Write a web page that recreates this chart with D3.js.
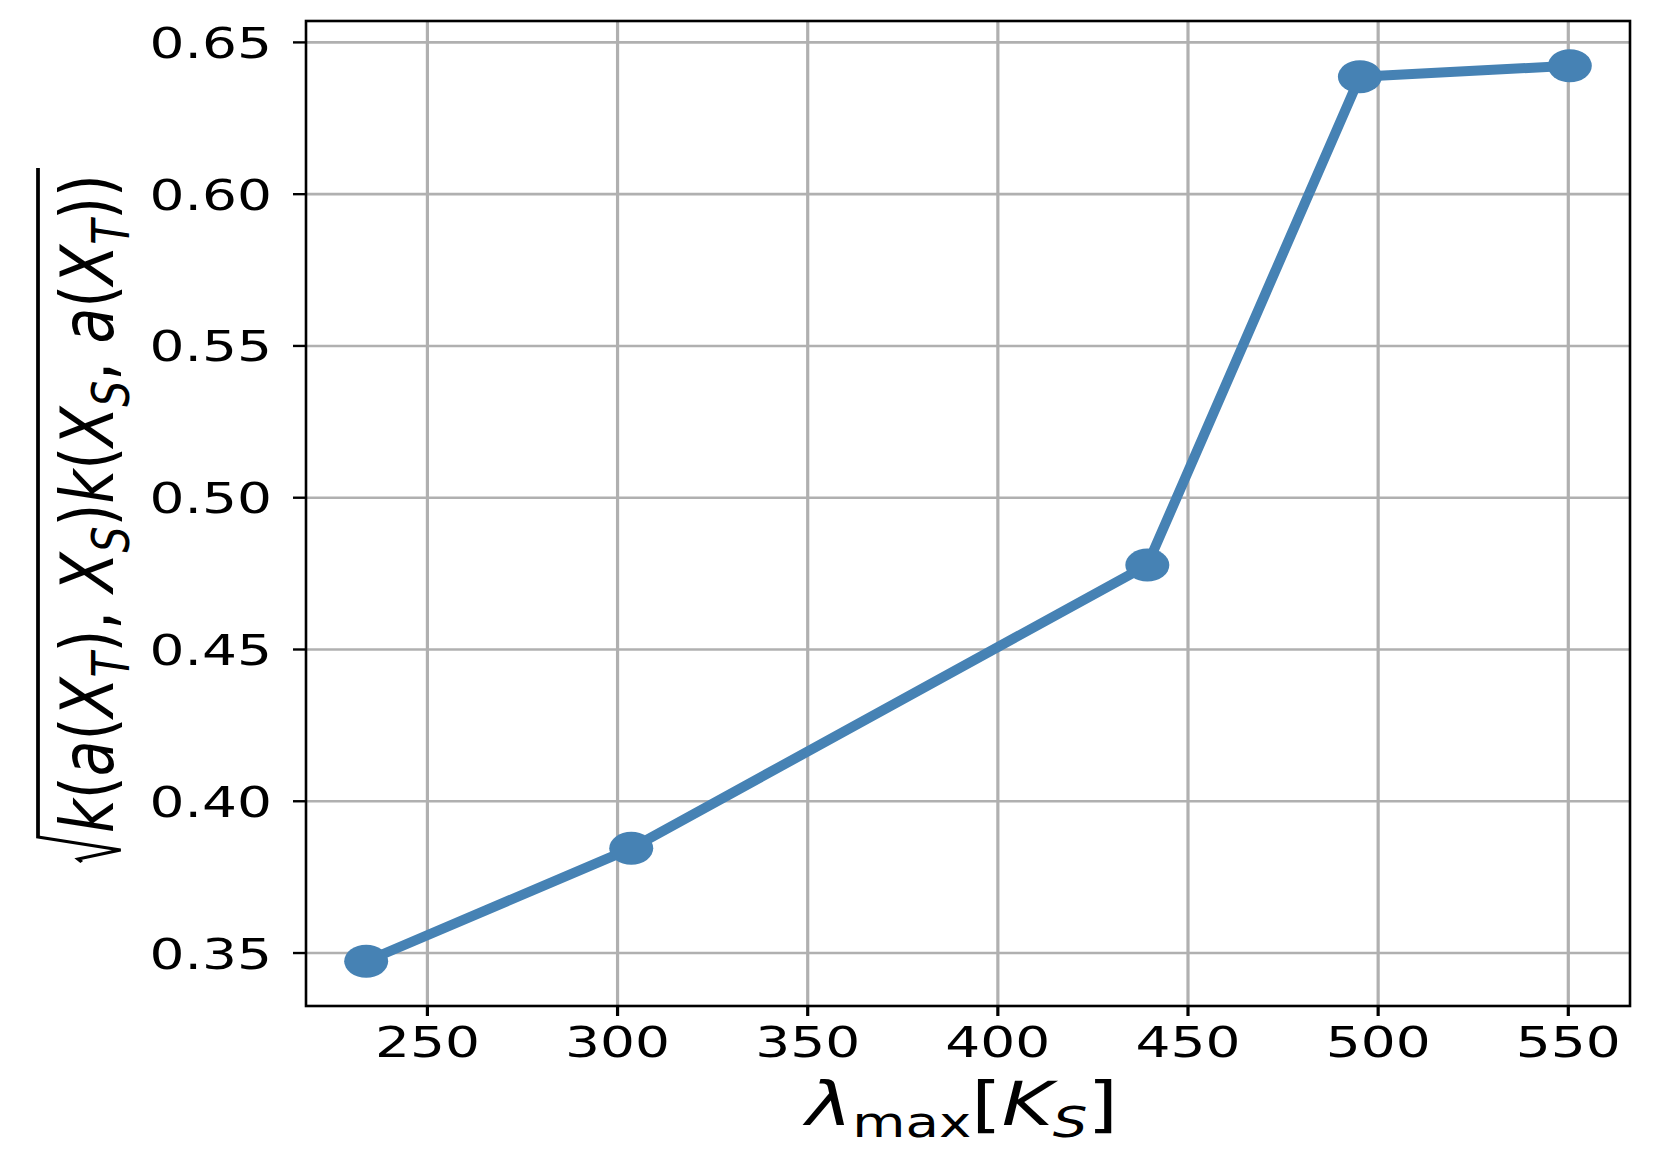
<!DOCTYPE html>
<html><head><meta charset="utf-8">
<script src="https://cdn.jsdelivr.net/npm/d3@7"></script>
<style>body{margin:0;background:#fff}svg{display:block}text{font-family:"DejaVu Sans",sans-serif}</style>
</head><body>
<script>
const lambdaMax = [233.9, 303.6, 439.3, 495.2, 550.4];
const similarity = [0.3473, 0.3845, 0.4778, 0.6387, 0.6423];
const xTicks = [250, 300, 350, 400, 450, 500, 550];
const yTicks = [0.35, 0.40, 0.45, 0.50, 0.55, 0.60, 0.65];

const W = 1659, H = 1161, SX = 1.28;
const plot = {left: 306, right: 1630, top: 21, bottom: 1006};
const svg = d3.select("body").append("svg").attr("width", W).attr("height", H);

const pad = (ext, f) => { const r = ext[1]-ext[0]; return [ext[0]-r*f, ext[1]+r*f]; };
const x = d3.scaleLinear().domain(pad(d3.extent(lambdaMax), 0.05)).range([plot.left, plot.right]);
const y = d3.scaleLinear().domain(pad(d3.extent(similarity), 0.05)).range([plot.bottom, plot.top]);

// grid
svg.append("g").selectAll("line").data(xTicks).join("line")
  .attr("x1", d=>x(d)).attr("x2", d=>x(d)).attr("y1", plot.top).attr("y2", plot.bottom)
  .attr("stroke", "#b0b0b0").attr("stroke-width", 3.2);
svg.append("g").selectAll("line").data(yTicks).join("line")
  .attr("y1", d=>y(d)).attr("y2", d=>y(d)).attr("x1", plot.left).attr("x2", plot.right)
  .attr("stroke", "#b0b0b0").attr("stroke-width", 2.6);

// ticks
svg.append("g").selectAll("line").data(xTicks).join("line")
  .attr("x1", d=>x(d)).attr("x2", d=>x(d)).attr("y1", plot.bottom).attr("y2", plot.bottom+10)
  .attr("stroke", "#000").attr("stroke-width", 3.2);
svg.append("g").selectAll("line").data(yTicks).join("line")
  .attr("y1", d=>y(d)).attr("y2", d=>y(d)).attr("x1", plot.left-13).attr("x2", plot.left)
  .attr("stroke", "#000").attr("stroke-width", 2.4);

// tick labels
svg.append("g").selectAll("text").data(xTicks).join("text")
  .attr("transform", d=>`translate(${x(d)},1057) scale(${SX},1)`)
  .attr("text-anchor", "middle").attr("font-size", 43).text(d=>d3.format("d")(d));
svg.append("g").selectAll("text").data(yTicks).join("text")
  .attr("transform", d=>`translate(272,${y(d)+15.5}) scale(${SX},1)`)
  .attr("text-anchor", "end").attr("font-size", 43).text(d=>d3.format(".2f")(d));

// data line and markers
const pts = lambdaMax.map((v,i)=>[v, similarity[i]]);
svg.append("path").datum(pts)
  .attr("d", d3.line().x(d=>x(d[0])).y(d=>y(d[1])))
  .attr("fill", "none").attr("stroke", "#4682b4").attr("stroke-width", 10).attr("stroke-linejoin", "round");
svg.append("g").selectAll("ellipse").data(pts).join("ellipse")
  .attr("cx", d=>x(d[0])).attr("cy", d=>y(d[1])).attr("rx", 22).attr("ry", 16.5)
  .attr("fill", "#4682b4");

// spines
svg.append("rect").attr("x", plot.left).attr("y", plot.top)
  .attr("width", plot.right-plot.left).attr("height", plot.bottom-plot.top)
  .attr("fill", "none").attr("stroke", "#000").attr("stroke-width", 2.6);

// x label: λ_max[K_S]
const xl = svg.append("text").attr("transform", `translate(962,1125) scale(1.3,1)`)
  .attr("text-anchor", "middle").attr("font-size", 60);
xl.append("tspan").attr("font-style", "italic").text("λ");
xl.append("tspan").attr("font-size", 42).attr("dy", 12).text("max");
xl.append("tspan").attr("dy", -12).text("[");
xl.append("tspan").attr("font-style", "italic").text("K");
xl.append("tspan").attr("font-style", "italic").attr("font-size", 42).attr("dy", 12).text("S");
xl.append("tspan").attr("dy", -12).text("]");

// y label: sqrt{k(a(X_T),X_S)k(X_S,a(X_T))}
const yg = svg.append("g").attr("transform", "translate(113,833) rotate(-90) scale(1,1.25)");
const yl = yg.append("text").attr("font-size", 58.5);
const parts = [
  ["k",1,0],["(",0,0],["a",1,0],["(",0,0],["X",1,0],["T",1,1],[")",0,0],[", ",0,0],
  ["X",1,0],["S",1,1],[")",0,0],["k",1,0],["(",0,0],["X",1,0],["S",1,1],[", ",0,0],
  ["a",1,0],["(",0,0],["X",1,0],["T",1,1],[")",0,0],[")",0,0]
];
let sub = false;
parts.forEach(([t,it,s])=>{
  const ts = yl.append("tspan").text(t);
  if (it) ts.attr("font-style", "italic");
  if (s) { ts.attr("font-size", 41).attr("dy", 12.5); sub = true; }
  else if (sub) { ts.attr("dy", -12.5); sub = false; }
});
const len = yl.node().getComputedTextLength();
// radical sign
yg.append("path")
  .attr("d", `M-29,-25 L-26,-28 L-17,6 L-4,-60 L${len+6},-60`)
  .attr("fill", "none").attr("stroke", "#000").attr("stroke-width", 3).attr("stroke-linejoin", "miter");
</script>
</body></html>
